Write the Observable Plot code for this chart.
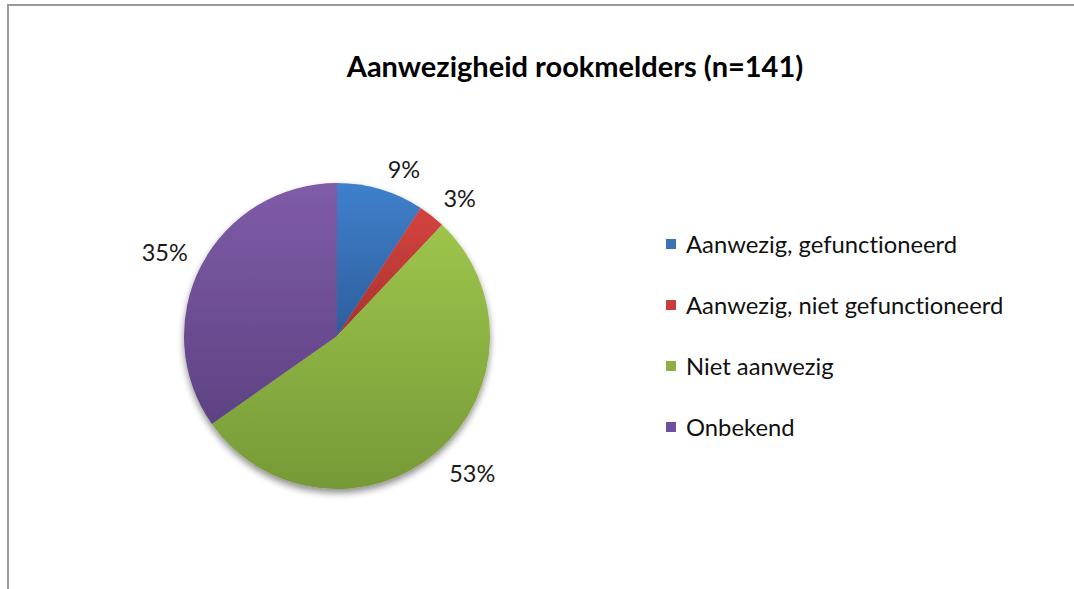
<!DOCTYPE html>
<html>
<head>
<meta charset="utf-8">
<script src="https://cdn.jsdelivr.net/npm/d3@7"></script>
<script src="https://cdn.jsdelivr.net/npm/@observablehq/plot@0.6"></script>
<style>
  body { margin: 0; background: #fff; }
  #wrap { position: relative; width: 1074px; height: 589px; overflow: hidden; background: #fff; font-family: Lato, "Open Sans", sans-serif; font-variant-ligatures: none; }
  #frame { position: absolute; left: 7px; top: 4px; width: 1200px; height: 700px; border-left: 2px solid #9a9a9a; border-top: 2px solid #9a9a9a; }
  #title { position: absolute; left: 0; top: 48px; width: 1150px; text-align: center; font-weight: bold; font-size: 29px; color: #000; font-family: Lato, sans-serif; }
  #chart { position: absolute; left: 0; top: 100px; }
  #legend { position: absolute; left: 666px; top: 213px; }
  #legend .lg-swatches, #legend > div { font-family: Lato, sans-serif !important; font-size: 23.8px !important; color: #111 !important; margin: 0 !important; columns: auto !important; display: block !important; font-variant-ligatures: none !important; }
  #legend .lg-swatch { display: flex !important; align-items: center !important; height: 61px !important; padding: 0 !important; margin: 0 !important; }
  #legend .lg-swatch > svg { margin-right: 10px !important; }
  #legend .lg-swatch-label { overflow: visible !important; }
</style>
</head>
<body>
<div id="wrap">
  <div id="frame"></div>
  <div id="title">Aanwezigheid rookmelders (n=141)</div>
  <div id="chart"></div>
  <div id="legend"></div>
</div>
<script>
// ---- data ----
const categories = ["Aanwezig, gefunctioneerd", "Aanwezig, niet gefunctioneerd", "Niet aanwezig", "Onbekend"];
const counts = [13, 4, 75, 49];
const labels = ["9%", "3%", "53%", "35%"];
// ---- palette (style) ----
const baseColors = ["#3a72b8", "#c73d39", "#8cb042", "#704fa0"];
const topColors = ["#3f80cc", "#d4443f", "#9dc54b", "#7f5ca8"];
const bottomColors = ["#2e5e9b", "#a8322f", "#769937", "#5e4283"];

const data = categories.map((c, i) => ({category: c, count: counts[i], label: labels[i], i}));

const color = Plot.scale({color: {type: "ordinal", domain: categories, range: baseColors}});

function pieMark(index, scales, values, dims) {
  let cx, cy, r;
  if (scales && scales.x && scales.y) {
    cx = scales.x(0); cy = scales.y(0);
    r = Math.abs(scales.x(1) - scales.x(-1)) / 2;
  } else {
    const {width, height, marginLeft, marginRight, marginTop, marginBottom} = dims;
    cx = (marginLeft + width - marginRight) / 2;
    cy = (marginTop + height - marginBottom) / 2;
    r = (width - marginLeft - marginRight) / 2;
  }
  const g = d3.create("svg:g");
  const defs = g.append("defs");
  const f = defs.append("filter").attr("id", "pieShadow")
    .attr("x", "-20%").attr("y", "-20%").attr("width", "140%").attr("height", "140%");
  f.append("feGaussianBlur").attr("in", "SourceAlpha").attr("stdDeviation", 3.5).attr("result", "b");
  f.append("feOffset").attr("in", "b").attr("dx", 0).attr("dy", 4).attr("result", "o");
  f.append("feComponentTransfer").attr("in", "o").attr("result", "s")
    .append("feFuncA").attr("type", "linear").attr("slope", 0.45);
  const m = f.append("feMerge");
  m.append("feMergeNode").attr("in", "s");
  m.append("feMergeNode").attr("in", "SourceGraphic");

  data.forEach((d, i) => {
    const lg = defs.append("linearGradient").attr("id", "grad" + i)
      .attr("x1", 0).attr("y1", 0).attr("x2", 0).attr("y2", 1);
    lg.append("stop").attr("offset", "0%").attr("stop-color", topColors[i]);
    lg.append("stop").attr("offset", "100%").attr("stop-color", bottomColors[i]);
  });

  const pie = d3.pie().sort(null).value(d => d.count).startAngle(0).endAngle(2 * Math.PI);
  const arcs = pie(data);
  const arc = d3.arc().innerRadius(0).outerRadius(r);

  const pg = g.append("g").attr("transform", `translate(${cx},${cy})`).attr("filter", "url(#pieShadow)");
  pg.selectAll("path").data(arcs).join("path")
    .attr("d", arc)
    .attr("fill", (a, i) => `url(#grad${i})`)
    .attr("data-color", a => color.apply(a.data.category));

  const R = r + 14;
  const mid = a => (a.startAngle + a.endAngle) / 2;
  g.append("g").selectAll("text").data(arcs).join("text")
    .attr("x", a => cx + R * Math.sin(mid(a)) + (Math.sin(mid(a)) >= 0 ? 3 : -1))
    .attr("y", a => cy - R * Math.cos(mid(a)))
    .attr("text-anchor", a => Math.sin(mid(a)) >= 0 ? "start" : "end")
    .attr("dy", a => Math.cos(mid(a)) > 0 ? "0.1em" : "0.85em")
    .attr("font-family", "Lato, sans-serif")
    .attr("font-size", 23.5)
    .attr("fill", "#1a1a1a")
    .text(a => a.data.label);
  return g.node();
}

const chart = Plot.plot({
  width: 1074,
  height: 489,
  marginLeft: 184,
  marginRight: 584,
  marginTop: 83,
  marginBottom: 100,
  x: {domain: [-1, 1], axis: null},
  y: {domain: [-1, 1], axis: null},
  style: {background: "transparent", overflow: "visible"},
  marks: [pieMark]
});
document.getElementById("chart").appendChild(chart);

const legend = Plot.legend({
  color: {type: "ordinal", domain: categories, range: baseColors},
  legend: "swatches",
  columns: 1,
  swatchSize: 10,
  className: "lg"
});
document.getElementById("legend").appendChild(legend);
</script>
</body>
</html>
